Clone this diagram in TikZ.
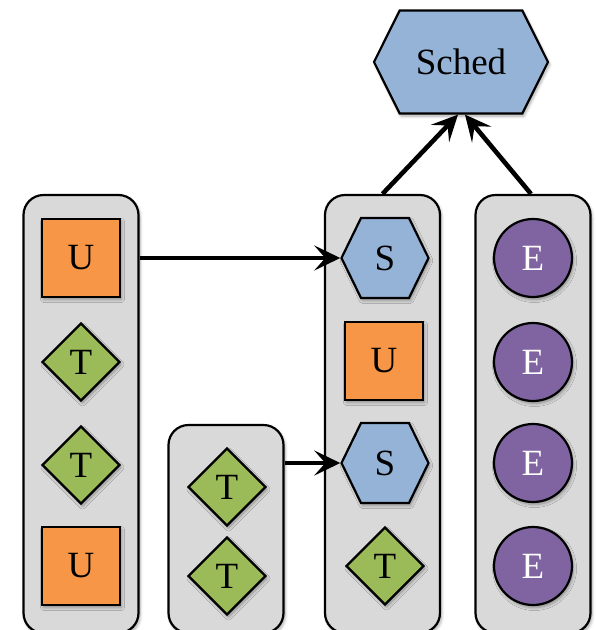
\documentclass[tikz,border=0pt]{standalone}
\usepackage{fontspec}
\setmainfont{Liberation Serif}
\usetikzlibrary{shapes.geometric,shapes.symbols,arrows.meta,shadows.blur}
\definecolor{colgray}{HTML}{D9D9D9}
\definecolor{uorange}{HTML}{F79646}
\definecolor{tgreen}{HTML}{9BBB59}
\definecolor{sblue}{HTML}{95B3D7}
\definecolor{epurple}{HTML}{8064A2}
\tikzset{
  softshadow/.style={blur shadow={shadow blur steps=6, shadow xshift=1.5pt, shadow yshift=-2.5pt, shadow opacity=35, shadow blur radius=3pt}},
  column/.style={draw, line width=2.2pt, fill=colgray, rounded corners=20pt, minimum width=115pt, inner sep=0pt, softshadow},
  item/.style={draw, line width=2.2pt, inner sep=0pt, font=\fontsize{37}{40}\selectfont, softshadow},
  ubox/.style={item, rectangle, fill=uorange, minimum size=78pt},
  tbox/.style={item, diamond, fill=tgreen, minimum width=78pt, minimum height=78pt},
  sbox/.style={item, signal, signal to=west and east, signal pointer angle=128, fill=sblue, minimum width=87pt, minimum height=80pt},
  ebox/.style={item, circle, fill=epurple, minimum size=78pt, text=white},
  flow/.style={line width=4.6pt, -{Stealth[length=26pt, width=25pt, inset=11pt]}},
}
\begin{document}
\begin{tikzpicture}[x=1pt, y=-1pt]
  \useasboundingbox (0,0) rectangle (596,630);
  \clip (0,0) rectangle (596,630);

  % columns
  \node[column, minimum height=438pt] (col1) at (81,414) {};
  \node[column, minimum height=208pt] (col2) at (226,529) {};
  \node[column, minimum height=438pt] (col3) at (382.5,414) {};
  \node[column, minimum height=438pt] (col4) at (533,414) {};

  % scheduler
  \node[item, signal, signal to=west and east, signal pointer angle=127, fill=sblue, minimum width=174pt, minimum height=103pt] (sched) at (461,62) {Sched};

  % first column
  \node[ubox] (u1) at (81,258) {U};
  \node[tbox] (t1) at (81,362) {T};
  \node[tbox] (t2) at (81,465) {T};
  \node[ubox] (u2) at (81,566) {U};

  % second column
  \node[tbox] (t3) at (227,487) {T};
  \node[tbox] (t4) at (227,576) {T};

  % third column
  \node[sbox] (s1) at (385,258) {S};
  \node[ubox] (u3) at (384,361) {U};
  \node[sbox] (s2) at (385,463) {S};
  \node[tbox] (t5) at (385,566) {T};

  % fourth column
  \node[ebox] (e1) at (533,258) {E};
  \node[ebox] (e2) at (533,362) {E};
  \node[ebox] (e3) at (533,463) {E};
  \node[ebox] (e4) at (533,566) {E};

  % connectors
  \draw[flow] (u1 -| col1.east) -- (s1.west);
  \draw[flow] (s2 -| col2.east) -- (s2.west);
  \draw[flow] (col3.north) -- ([xshift=-3pt]sched.south);
  \draw[flow] ([xshift=-2pt]col4.north) -- ([xshift=4pt]sched.south);
\end{tikzpicture}
\end{document}
